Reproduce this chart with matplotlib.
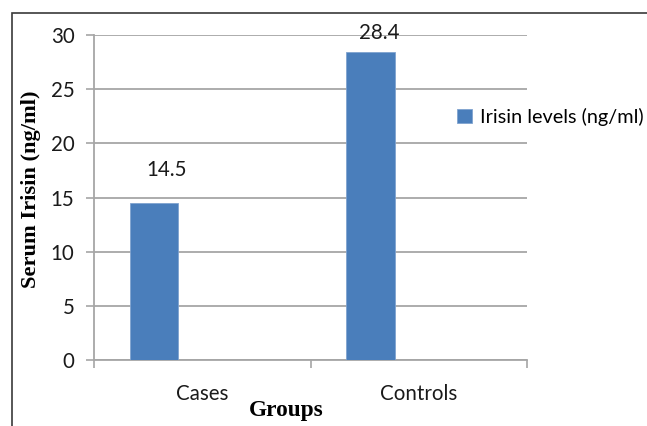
import matplotlib
matplotlib.use("Agg")
import matplotlib.pyplot as plt
from matplotlib.patches import Rectangle
import numpy as np

categories = ["Cases", "Controls"]
irisin_levels = [14.5, 28.4]
series_name = "Irisin levels (ng/ml)"
y_ticks = [0, 5, 10, 15, 20, 25, 30]

BAR_COLOR = "#4a7ebb"
GRID_COLOR = "#a6a6a6"
SANS = "Lato"
SERIF = "Liberation Serif"
TXT = 14.8

fig = plt.figure(figsize=(6.47, 4.26), dpi=100)
ax = fig.add_axes([94 / 647, 66 / 426, 433 / 647, 325 / 426])

x = np.arange(len(categories))
bar_w = 0.224
bars = ax.bar(x - 0.222, irisin_levels, width=bar_w, color=BAR_COLOR,
              edgecolor="#7fa3d0", linewidth=0.6, label=series_name, zorder=3)

# value labels above each bar (pixel offsets from the bar top)
label_offsets = [(12, 33), (9, 19)]
for rect, val, (dx, dy) in zip(bars, irisin_levels, label_offsets):
    ax.annotate(f"{val}", xy=(rect.get_x() + rect.get_width() / 2, val),
                xytext=(dx, dy), textcoords="offset pixels",
                ha="center", va="center", fontsize=TXT, family=SANS,
                color="#1a1a1a")

ax.set_xlim(-0.5, len(categories) - 0.5)
ax.set_ylim(0, 30)
ax.set_yticks(y_ticks)
ax.set_xticks(x)
ax.set_xticklabels(categories)
ax.set_xticks([-0.5, 0.5, 1.5], minor=True)
ax.tick_params(axis="x", which="major", length=0, pad=17,
               labelsize=TXT, labelcolor="#1a1a1a")
ax.tick_params(axis="x", which="minor", length=6, width=1.2, color=GRID_COLOR)
ax.tick_params(axis="y", length=6, width=1.2, color=GRID_COLOR, pad=8,
               labelsize=TXT, labelcolor="#1a1a1a")
for lbl in ax.get_xticklabels() + ax.get_yticklabels():
    lbl.set_family(SANS)

ax.grid(axis="y", color=GRID_COLOR, linewidth=1.3, zorder=0)
ax.set_axisbelow(True)
for side in ["top", "right"]:
    ax.spines[side].set_visible(False)
for side in ["left", "bottom"]:
    ax.spines[side].set_color(GRID_COLOR)
    ax.spines[side].set_linewidth(1.3)

ax.set_ylabel("Serum Irisin (ng/ml)", family=SERIF, fontweight="bold",
              fontsize=16.2)
ax.yaxis.set_label_coords(-0.123, 0.526)
ax.set_xlabel("Groups", family=SERIF, fontweight="bold", fontsize=16.8)
ax.xaxis.set_label_coords(0.445, -0.123)

leg = ax.legend(loc="center left", bbox_to_anchor=(0.82, 0.748),
                frameon=False, handlelength=0.75, handleheight=0.75,
                handletextpad=0.4, borderaxespad=0,
                prop={"family": SANS, "size": 14.3})

# outer chart border (top and left edges visible)
fig.patches.append(Rectangle((12 / 647, -0.1), 1.2, (413 / 426) + 0.1,
                             transform=fig.transFigure, fill=False,
                             edgecolor="#3a3a3a", linewidth=1.2))

fig.savefig("out.png", dpi=100)
